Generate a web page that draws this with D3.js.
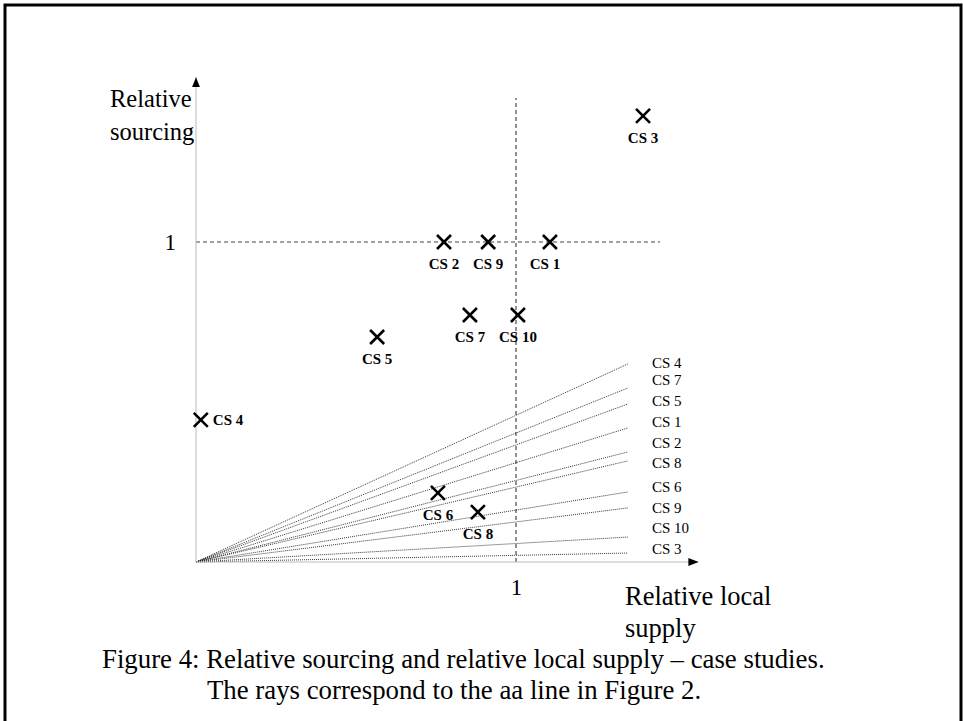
<!DOCTYPE html>
<html>
<head>
<meta charset="utf-8">
<script src="https://cdn.jsdelivr.net/npm/d3@7/dist/d3.min.js"></script>
<style>
  html, body { margin: 0; padding: 0; background: #fff; }
  svg { display: block; }
  text { font-family: "Liberation Serif", "Times New Roman", serif; fill: #000; }
</style>
</head>
<body>
<svg id="chart" width="963" height="721"></svg>
<script>
// ---- data ----
const caseNames = ["CS 1", "CS 2", "CS 3", "CS 4", "CS 5", "CS 6", "CS 7", "CS 8", "CS 9", "CS 10"];
const localSupply = [1.106, 0.775, 1.397, 0.015, 0.566, 0.756, 0.856, 0.881, 0.913, 1.006];
const sourcing    = [1.0,   1.0,   1.394, 0.444, 0.703, 0.216, 0.772, 0.156, 1.0,   0.772];

const rayNames   = ["CS 4", "CS 7", "CS 5", "CS 1", "CS 2", "CS 8", "CS 6", "CS 9", "CS 10", "CS 3"];
const rayEndY    = [0.619, 0.544, 0.494, 0.419, 0.344, 0.316, 0.219, 0.169, 0.078, 0.028]; // value at rayEndX
const rayLabelY  = [0.622, 0.569, 0.503, 0.4375, 0.372, 0.309, 0.234, 0.169, 0.106, 0.041];
const rayEndX = 1.35;

const xTicks = [1];
const yTicks = [1];

// ---- layout ----
const svg = d3.select("#chart");
const x = d3.scaleLinear().domain([0, 1]).range([196, 516]);
const y = d3.scaleLinear().domain([0, 1]).range([562, 242]);

// border
svg.append("rect").attr("x", 5).attr("y", 5).attr("width", 956).attr("height", 718)
  .attr("fill", "none").attr("stroke", "#000").attr("stroke-width", 3);

// arrow markers
const defs = svg.append("defs");
defs.append("marker").attr("id", "arrow").attr("viewBox", "0 0 10 10")
  .attr("refX", 10).attr("refY", 5).attr("markerWidth", 10).attr("markerHeight", 10)
  .attr("markerUnits", "userSpaceOnUse").attr("orient", "auto")
  .append("path").attr("d", "M0,1 L10,5 L0,9 Z").attr("fill", "#000");

// rays
const g = svg.append("g");
g.selectAll("line.ray").data(rayEndY).join("line").attr("class", "ray")
  .attr("x1", x(0)).attr("y1", y(0))
  .attr("x2", x(rayEndX)).attr("y2", d => y(d))
  .attr("stroke", "#222").attr("stroke-width", 0.9).attr("stroke-dasharray", "1,1");

g.selectAll("text.raylab").data(rayNames).join("text").attr("class", "raylab")
  .attr("x", x(rayEndX) + 24).attr("y", (d, i) => y(rayLabelY[i]))
  .attr("dy", "0.35em").attr("font-size", 15).text(d => d);

// reference dashed lines at 1
g.append("line").attr("x1", x(0)).attr("x2", x(1.45)).attr("y1", y(1)).attr("y2", y(1))
  .attr("stroke", "#444").attr("stroke-width", 1).attr("stroke-dasharray", "4,3");
g.append("line").attr("x1", x(1)).attr("x2", x(1)).attr("y1", y(0)).attr("y2", y(1.45))
  .attr("stroke", "#222").attr("stroke-width", 1).attr("stroke-dasharray", "4,3");

// axis lines with arrows
g.append("line").attr("x1", x(0)).attr("y1", y(0)).attr("x2", x(1.57)).attr("y2", y(0))
  .attr("stroke", "#bbb").attr("stroke-width", 1).attr("marker-end", "url(#arrow)");
g.append("line").attr("x1", x(0)).attr("y1", y(0)).attr("x2", x(0)).attr("y2", y(1.515))
  .attr("stroke", "#bbb").attr("stroke-width", 1).attr("marker-end", "url(#arrow)");

// tick labels via d3 axes
const xAxis = svg.append("g").attr("transform", `translate(0,${y(0)})`)
  .call(d3.axisBottom(x).tickValues(xTicks).tickSize(0).tickPadding(17).tickFormat(d3.format("d")));
const yAxis = svg.append("g").attr("transform", `translate(${x(0)},0)`)
  .call(d3.axisLeft(y).tickValues(yTicks).tickSize(0).tickPadding(20).tickFormat(d3.format("d")));
[xAxis, yAxis].forEach(a => {
  a.select(".domain").remove();
  a.selectAll("text").attr("font-family", "Liberation Serif, serif").attr("font-size", 23).attr("fill", "#000");
});

// markers
const pts = caseNames.map((n, i) => ({ n, lx: localSupply[i], s: sourcing[i] }));
const mk = g.selectAll("g.pt").data(pts).join("g").attr("class", "pt")
  .attr("transform", d => `translate(${x(d.lx)},${y(d.s)})`);
mk.append("path").attr("d", "M-7,-7L7,7M-7,7L7,-7")
  .attr("stroke", "#000").attr("stroke-width", 2.6).attr("fill", "none");
mk.append("text")
  .attr("x", d => d.n === "CS 4" ? 12 : (d.n === "CS 1" ? -5 : 0))
  .attr("y", d => d.n === "CS 4" ? 0 : 22)
  .attr("dy", "0.35em")
  .attr("text-anchor", d => d.n === "CS 4" ? "start" : "middle")
  .attr("font-size", 15).attr("font-weight", "bold").text(d => d.n);

// axis titles
const t1 = svg.append("text").attr("font-size", 24.5);
t1.append("tspan").attr("x", 110).attr("y", 107).text("Relative");
t1.append("tspan").attr("x", 110).attr("y", 140).text("sourcing");
const t2 = svg.append("text").attr("font-size", 26.5);
t2.append("tspan").attr("x", 625).attr("y", 605).text("Relative local");
t2.append("tspan").attr("x", 625).attr("y", 637).text("supply");

// caption
svg.append("text").attr("x", 102).attr("y", 668).attr("font-size", 26.8)
  .text("Figure 4: Relative sourcing and relative local supply – case studies.");
svg.append("text").attr("x", 207).attr("y", 699).attr("font-size", 26.8)
  .text("The rays correspond to the aa line in Figure 2.");
</script>
</body>
</html>
